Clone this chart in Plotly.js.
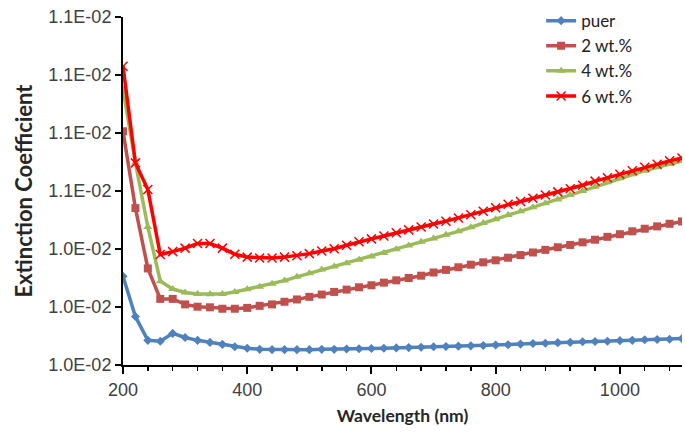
<!DOCTYPE html>
<html>
<head>
<meta charset="utf-8">
<script src="https://cdn.plot.ly/plotly-3.0.1.min.js"></script>
<style>html,body{margin:0;padding:0;background:#fff;}#chart{width:685px;height:435px;}</style>
</head>
<body>
<div id="chart"></div>
<script>
const wavelength = [200,220,240,260,280,300,320,340,360,380,400,420,440,460,480,500,520,540,560,580,600,620,640,660,680,700,720,740,760,780,800,820,840,860,880,900,920,940,960,980,1000,1020,1040,1060,1080,1100];

const puer = [0.010306,0.010167,0.010085,0.010082,0.010109,0.010095,0.010085,0.010078,0.010071,0.010063,0.010058,0.010054,0.010053,0.010053,0.010053,0.010053,0.010054,0.010054,0.010055,0.010056,0.010057,0.010058,0.010059,0.010060,0.010061,0.010063,0.010064,0.010065,0.010066,0.010067,0.010069,0.010070,0.010072,0.010074,0.010075,0.010077,0.010078,0.010080,0.010081,0.010082,0.010084,0.010085,0.010087,0.010088,0.010089,0.010091];

const wt2 = [0.010806,0.010541,0.010333,0.010228,0.010228,0.010209,0.010201,0.010199,0.010194,0.010194,0.010197,0.010204,0.010209,0.010218,0.010226,0.010235,0.010243,0.010252,0.010260,0.010268,0.010275,0.010284,0.010292,0.010300,0.010308,0.010319,0.010328,0.010337,0.010346,0.010354,0.010361,0.010370,0.010379,0.010388,0.010397,0.010406,0.010414,0.010423,0.010432,0.010442,0.010451,0.010461,0.010470,0.010478,0.010487,0.010495];

const wt4 = [0.010952,0.010697,0.010476,0.010289,0.010262,0.010250,0.010245,0.010244,0.010245,0.010252,0.010261,0.010270,0.010280,0.010291,0.010304,0.010316,0.010329,0.010340,0.010351,0.010363,0.010374,0.010386,0.010399,0.010412,0.010425,0.010436,0.010449,0.010461,0.010475,0.010490,0.010503,0.010517,0.010530,0.010544,0.010558,0.010571,0.010586,0.010600,0.010615,0.010630,0.010644,0.010658,0.010670,0.010682,0.010693,0.010704];

const wt6 = [0.011030,0.010697,0.010605,0.010381,0.010391,0.010403,0.010419,0.010419,0.010403,0.010382,0.010372,0.010369,0.010369,0.010372,0.010377,0.010384,0.010393,0.010401,0.010413,0.010425,0.010435,0.010445,0.010456,0.010466,0.010476,0.010486,0.010496,0.010507,0.010518,0.010530,0.010542,0.010554,0.010564,0.010575,0.010586,0.010597,0.010608,0.010620,0.010634,0.010646,0.010658,0.010670,0.010682,0.010692,0.010704,0.010714];

const seriesNames = ['puer','2 wt.%','4 wt.%','6 wt.%'];
const yTickVals = [0.0100,0.0102,0.0104,0.0106,0.0108,0.0110,0.0112];
const yTickText = ['1.0E-02','1.0E-02','1.0E-02','1.1E-02','1.1E-02','1.1E-02','1.1E-02'];

const traces = [
  {x: wavelength, y: puer, name: seriesNames[0], mode: 'lines+markers',
   line: {color: '#4F81BD', width: 3.5}, marker: {symbol: 'diamond', size: 7, color: '#4F81BD'}},
  {x: wavelength, y: wt2, name: seriesNames[1], mode: 'lines+markers',
   line: {color: '#C0504D', width: 3.5}, marker: {symbol: 'square', size: 8, color: '#C0504D'}},
  {x: wavelength, y: wt4, name: seriesNames[2], mode: 'lines+markers',
   line: {color: '#9BBB59', width: 3.5}, marker: {symbol: 'triangle-up', size: 8, color: '#9BBB59'}},
  {x: wavelength, y: wt6, name: seriesNames[3], mode: 'lines+markers',
   line: {color: '#FF0000', width: 3.5}, marker: {symbol: 'x-thin', size: 9, color: '#FF0000', line: {color: '#FF0000', width: 1.5}}}
];

const layout = {
  width: 685, height: 435,
  margin: {l: 123, r: 3, t: 9, b: 70},
  paper_bgcolor: '#fff', plot_bgcolor: '#fff',
  showlegend: true,
  legend: {x: 0.748, y: 1.04, xanchor: 'left', yanchor: 'top', bgcolor: 'rgba(0,0,0,0)',
           font: {family: 'Lato, "Open Sans", sans-serif', size: 17, color: '#222'}, tracegroupgap: 0},
  xaxis: {
    range: [200, 1100], tickmode: 'linear', tick0: 200, dtick: 200,
    showgrid: false, zeroline: false, showline: true, linecolor: '#000', linewidth: 2,
    ticks: 'outside', ticklen: 7, tickwidth: 2, tickcolor: '#000',
    minor: {tick0: 200, dtick: 40, ticks: 'outside', ticklen: 4, tickwidth: 1.5, tickcolor: '#000', showgrid: false},
    tickfont: {family: '"Liberation Sans", Arial, sans-serif', size: 18, color: '#404040'},
    title: {text: 'Wavelength (nm)', font: {family: 'Lato, "Open Sans", sans-serif', size: 17.5, color: '#262626', weight: 'bold'}, standoff: 11}
  },
  yaxis: {
    range: [0.0100, 0.0112], tickmode: 'array', tickvals: yTickVals, ticktext: yTickText,
    showgrid: false, zeroline: false, showline: true, linecolor: '#000', linewidth: 2,
    ticks: 'outside', ticklen: 6, tickwidth: 2, tickcolor: '#000',
    tickfont: {family: '"Liberation Sans", Arial, sans-serif', size: 18, color: '#404040'},
    title: {text: 'Extinction Coefficient', font: {family: 'Lato, "Open Sans", sans-serif', size: 22, color: '#262626', weight: 'bold'}, standoff: 10}
  }
};

Plotly.newPlot('chart', traces, layout, {staticPlot: true, displayModeBar: false});
</script>
</body>
</html>
